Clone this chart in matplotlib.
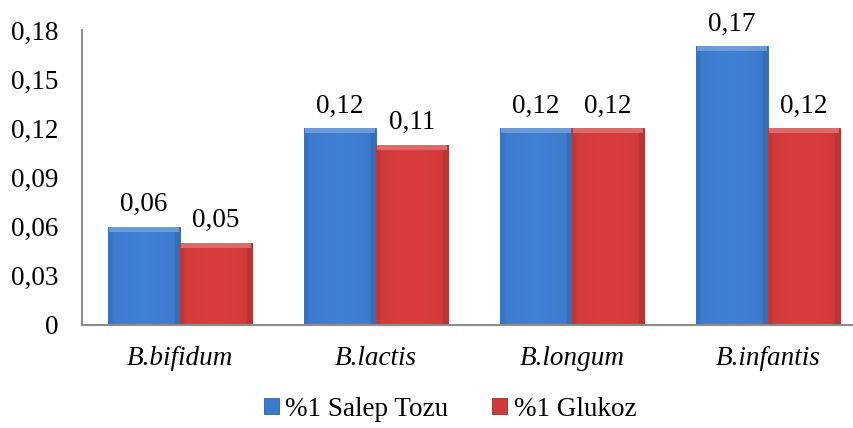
import matplotlib
matplotlib.use("Agg")
import matplotlib.pyplot as plt
import matplotlib.colors as mcolors
import numpy as np

categories = ["B.bifidum", "B.lactis", "B.longum", "B.infantis"]
series_names = ["%1 Salep Tozu", "%1 Glukoz"]
salep = [0.06, 0.12, 0.12, 0.17]
glukoz = [0.05, 0.11, 0.12, 0.12]
yticks = [0, 0.03, 0.06, 0.09, 0.12, 0.15, 0.18]
ytick_labels = ["0", "0,03", "0,06", "0,09", "0,12", "0,15", "0,18"]

plt.rcParams['font.family'] = ['Liberation Serif', 'DejaVu Serif']

W, H = 854, 428
FS = 19.5
fig = plt.figure(figsize=(W/100, H/100), dpi=100)
left = 82/W
bottom = 1 - 325/H
top = 1 - 30/H
ax = fig.add_axes([left, bottom, 1 - left, top - bottom])

x = np.arange(len(categories))
bw = 0.367
blue = "#3b7acb"
red = "#cf3a3a"
b1 = ax.bar(x - bw/2, salep, bw, color=blue, edgecolor="#2f63a6", linewidth=0.6, label=series_names[0], zorder=2)
b2 = ax.bar(x + bw/2, glukoz, bw, color=red, edgecolor="#a32c2c", linewidth=0.6, label=series_names[1], zorder=2)

ax.set_ylim(0, 0.18)
ax.set_xlim(-0.5, 3.5 - 12/196)

# subtle bevel shading clipped to each bar
def shade(bars, base):
    rgb = np.array(mcolors.to_rgb(base))
    t = np.linspace(0, 1, 80)
    prof = 1.0 + 0.05 * np.sin(np.pi * t) - 0.10 * (t > 0.93) - 0.06 * (t < 0.06)
    for r in bars:
        x0, w, h = r.get_x(), r.get_width(), r.get_height()
        img = np.clip(rgb[None, None, :] * prof[None, :, None], 0, 1)
        img = np.repeat(img, 2, axis=0)
        im = ax.imshow(img, extent=(x0, x0 + w, 0, h), aspect="auto", zorder=2.5, interpolation="bilinear")
        im.set_clip_path(r)
        light = np.clip(rgb + (1 - rgb) * 0.25, 0, 1)
        ax.bar(x0 + w/2, 0.003, w * 0.97, bottom=h - 0.003, color=light, linewidth=0, zorder=2.6)
shade(b1, blue)
shade(b2, red)
ax.set_xlim(-0.5, 3.5 - 12/196)
ax.set_ylim(0, 0.18)

def fmt(v):
    return f"{v:.2f}".replace(".", ",")

for bars, vals in ((b1, salep), (b2, glukoz)):
    for r, v in zip(bars, vals):
        ax.annotate(fmt(v), (r.get_x() + r.get_width()/2, v), xytext=(0, 7),
                    textcoords="offset points", ha="center", va="bottom", fontsize=FS)

ax.set_yticks(yticks)
ax.set_yticklabels(ytick_labels, fontsize=FS)
ax.set_xticks(x)
ax.set_xticklabels(categories, fontsize=FS, style="italic")
ax.tick_params(axis="y", length=0, pad=17)
ax.tick_params(axis="x", length=0, pad=15)
for s in ("top", "right"):
    ax.spines[s].set_visible(False)
for s in ("left", "bottom"):
    ax.spines[s].set_color("#8c8c8c")
    ax.spines[s].set_linewidth(1.5)
    ax.spines[s].set_zorder(3)

fig.legend(handles=[b1, b2], labels=series_names, loc="center", bbox_to_anchor=(450/W, 1 - 409/H),
           ncol=2, frameon=False, fontsize=FS, handlelength=0.55, handleheight=0.55,
           handletextpad=0.25, columnspacing=1.6)

fig.savefig("out.png", dpi=100)
